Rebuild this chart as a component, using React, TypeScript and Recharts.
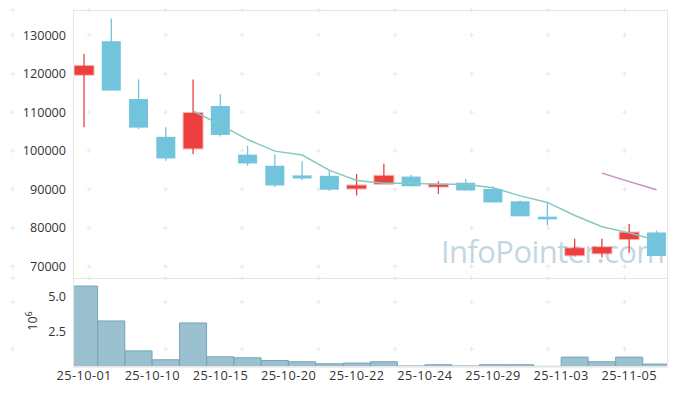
import { ComposedChart, Bar, Line, XAxis, YAxis, ReferenceDot } from 'recharts';

const dates = [
  '25-10-01', '25-10-02', '25-10-10', '25-10-13', '25-10-14', '25-10-15', '25-10-16', '25-10-17',
  '25-10-20', '25-10-21', '25-10-22', '25-10-23', '25-10-24', '25-10-27', '25-10-28', '25-10-29',
  '25-10-30', '25-10-31', '25-11-03', '25-11-04', '25-11-05', '25-11-06',
];
const opens = [119700, 128400, 113400, 103600, 100600, 111600, 99000, 96100, 93600, 93500, 90200, 91400, 93300, 90700, 91700, 90100, 86900, 82900, 72900, 73400, 77100, 78800];
const closes = [122000, 115600, 106000, 98000, 109800, 104100, 96700, 91000, 92800, 89900, 91000, 93500, 90800, 91300, 89700, 86600, 83000, 82200, 74700, 75000, 78800, 72700];
const highs = [125100, 134300, 118500, 106100, 118500, 114700, 101300, 99000, 97300, 95100, 94000, 96600, 93800, 92100, 92700, 90800, 87100, 86600, 77200, 77200, 81000, 79300];
const lows = [106100, 115600, 105600, 97400, 99100, 103700, 96100, 90600, 92400, 89600, 88400, 91400, 90700, 88800, 89700, 86600, 83000, 80700, 72600, 72300, 73500, 72700];
// volume in millions of shares
const volumes = [5.71, 3.25, 1.14, 0.51, 3.11, 0.72, 0.65, 0.46, 0.37, 0.23, 0.28, 0.37, 0.07, 0.16, 0.07, 0.16, 0.16, 0.05, 0.7, 0.37, 0.7, 0.21];
const ma5 = [null, null, null, null, 110300, 106700, 102900, 99900, 98900, 94900, 92300, 91600, 91600, 91300, 91300, 90400, 88300, 86600, 83200, 80300, 78700, 76700];
const ma20 = [null, null, null, null, null, null, null, null, null, null, null, null, null, null, null, null, null, null, null, 94200, 92000, 89900];

const xTicks = [0, 2.5, 5, 7.5, 10, 12.5, 15, 17.5, 20];
const xTickLabels = ['25-10-01', '25-10-10', '25-10-15', '25-10-20', '25-10-22', '25-10-24', '25-10-29', '25-11-03', '25-11-05'];
const priceTicks = [70000, 80000, 90000, 100000, 110000, 120000, 130000];
const volTicks = [2.5e6, 5e6];

const X_DOMAIN: [number, number] = [-0.41, 21.42];
const PRICE_DOMAIN: [number, number] = [67000, 136500];
const VOL_DOMAIN: [number, number] = [0, 6.28e6];

const RED = '#ef3e3e';
const BLUE = '#72c4dd';
const FONT = '"Open Sans", "Noto Sans", sans-serif';

const rows = dates.map((d, i) => ({
  i,
  date: d,
  open: opens[i],
  close: closes[i],
  high: highs[i],
  low: lows[i],
  vol: volumes[i] * 1e6,
  ma5: ma5[i],
  ma20: ma20[i],
}));

const Candle = (props: any) => {
  const { x, y, width, height, payload } = props;
  const { open, close, high, low } = payload;
  const up = close >= open;
  const color = up ? RED : BLUE;
  const top = Math.min(y, y + height);
  const h = Math.abs(height);
  const ratio = h / (high - low);
  const cx = x + width / 2;
  const yo = top + (high - open) * ratio;
  const yc = top + (high - close) * ratio;
  const bw = 19;
  return (
    <g>
      <line x1={cx} x2={cx} y1={top} y2={top + h} stroke={color} strokeWidth={1.3} />
      <rect
        x={cx - bw / 2}
        y={Math.min(yo, yc)}
        width={bw}
        height={Math.max(Math.abs(yo - yc), 2)}
        fill={color}
        stroke={up ? 'rgba(239,62,62,0.35)' : 'none'}
        strokeWidth={2}
      />
    </g>
  );
};

const Plus = (props: any) => {
  const { cx, cy } = props;
  return (
    <path d={`M${cx - 2.5},${cy}H${cx + 2.5}M${cx},${cy - 2.5}V${cy + 2.5}`} stroke="#e8e8e8" strokeWidth={1} />
  );
};

const tickStyle = { fill: '#333', fontSize: 12.6, fontFamily: FONT };
const layer = (top: number, z: number) => ({ position: 'absolute' as const, left: 0, top, zIndex: z });

export default function App() {
  const priceMarks = [...priceTicks, PRICE_DOMAIN[0], PRICE_DOMAIN[1]];
  const volMarks = [...volTicks, VOL_DOMAIN[1]];
  return (
    <div style={{ position: 'absolute', left: 0, top: 0, width: 677, height: 396, background: '#fff', fontFamily: FONT }}>
      {/* grid marks, behind everything */}
      <div style={layer(0, 0)}>
        <ComposedChart width={677} height={278} data={rows} margin={{ top: 10, right: 9, bottom: 0, left: 0 }}>
          <XAxis type="number" dataKey="i" domain={X_DOMAIN} ticks={xTicks} allowDataOverflow hide />
          <YAxis domain={PRICE_DOMAIN} ticks={priceTicks} allowDataOverflow width={73} hide />
          {xTicks.flatMap((tx) =>
            priceMarks.map((ty) => <ReferenceDot key={`${tx}-${ty}`} x={tx} y={ty} r={0} shape={Plus} />)
          )}
        </ComposedChart>
      </div>
      <div style={layer(278, 0)}>
        <ComposedChart width={677} height={118} data={rows} margin={{ top: 0, right: 9, bottom: 0, left: 0 }}>
          <XAxis type="number" dataKey="i" domain={X_DOMAIN} ticks={xTicks} allowDataOverflow height={29} hide />
          <YAxis domain={VOL_DOMAIN} ticks={volTicks} allowDataOverflow width={73} hide />
          {xTicks.flatMap((tx) =>
            volMarks.map((ty) => <ReferenceDot key={`v${tx}-${ty}`} x={tx} y={ty} r={0} shape={Plus} />)
          )}
        </ComposedChart>
      </div>

      {/* watermark */}
      <div
        style={{
          position: 'absolute', left: 441, top: 229, fontSize: 31, color: '#c3d7e3', zIndex: 1,
          letterSpacing: -0.6, whiteSpace: 'nowrap', lineHeight: '44px',
        }}
      >
        InfoPointer.com
      </div>

      <div style={layer(0, 2)}>
        <ComposedChart width={677} height={278} data={rows} margin={{ top: 10, right: 9, bottom: 0, left: 0 }}>
          <XAxis type="number" dataKey="i" domain={X_DOMAIN} ticks={xTicks} allowDataOverflow hide />
          <YAxis
            domain={PRICE_DOMAIN}
            ticks={priceTicks}
            allowDataOverflow
            width={73}
            axisLine={false}
            tickLine={false}
            tickSize={5}
            tickMargin={2}
            tick={tickStyle}
          />
          <Bar dataKey={(d: any) => [d.low, d.high]} barSize={27} shape={Candle} isAnimationActive={false} />
          <Line dataKey="ma5" stroke="#85c8bf" strokeWidth={1.5} dot={false} type="linear" isAnimationActive={false} />
          <Line dataKey="ma20" stroke="#c98bbf" strokeWidth={1.5} dot={false} type="linear" isAnimationActive={false} />
        </ComposedChart>
      </div>

      <div style={layer(278, 2)}>
        <ComposedChart width={677} height={118} data={rows} margin={{ top: 0, right: 9, bottom: 0, left: 0 }}>
          <XAxis
            type="number"
            dataKey="i"
            domain={X_DOMAIN}
            ticks={xTicks}
            allowDataOverflow
            height={29}
            axisLine={{ stroke: '#e0e0e0' }}
            tickLine={false}
            tickSize={2}
            tickMargin={2}
            tick={{ ...tickStyle, fontSize: 12.8, letterSpacing: 0.4 }}
            tickFormatter={(v: number) => xTickLabels[xTicks.indexOf(v)] ?? ''}
          />
          <YAxis
            domain={VOL_DOMAIN}
            ticks={volTicks}
            allowDataOverflow
            width={73}
            axisLine={false}
            tickLine={false}
            tickSize={5}
            tickMargin={2}
            tick={tickStyle}
            tickFormatter={(v: number) => (v / 1e6).toFixed(1)}
          />
          <Bar dataKey="vol" barSize={27} fill="#9bc0d0" stroke="#76a5bb" strokeWidth={1} isAnimationActive={false} />
        </ComposedChart>
      </div>

      {/* panel frame */}
      <div
        style={{
          position: 'absolute', left: 73, top: 10, width: 595, height: 357, zIndex: 3,
          border: '1px solid #e6e6e6', boxSizing: 'border-box', pointerEvents: 'none',
        }}
      />
      <div style={{ position: 'absolute', left: 73, top: 278, width: 595, height: 1, background: '#e6e6e6', zIndex: 3 }} />

      {/* volume unit label */}
      <div
        style={{
          position: 'absolute', left: 17, top: 312, width: 32, height: 18, fontSize: 12.6, color: '#333',
          transform: 'rotate(-90deg)', textAlign: 'center', lineHeight: '18px', zIndex: 3,
        }}
      >
        10<sup style={{ fontSize: 9, verticalAlign: 'top', lineHeight: '10px' }}>6</sup>
      </div>
    </div>
  );
}
